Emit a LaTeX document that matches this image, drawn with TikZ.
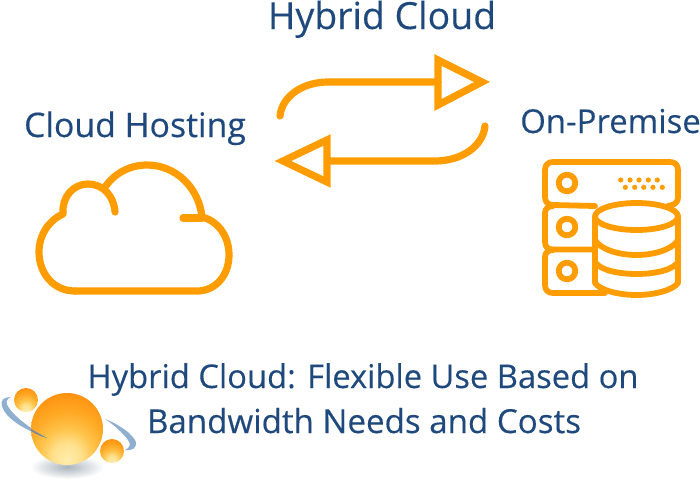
\documentclass[tikz,border=0pt]{standalone}
\usepackage{fontspec}
\setmainfont[FakeBold=0.25]{Open Sans}
\definecolor{tblue}{HTML}{1F497D}
\definecolor{iorange}{HTML}{FF9C00}
\definecolor{swooshc}{HTML}{8FAFD0}
\definecolor{shadowc}{HTML}{A9B4BC}
\pgfdeclareradialshading{ballshade}{\pgfpoint{0bp}{-22bp}}{
 rgb(0bp)=(1,0.93,0.68);
 rgb(10bp)=(1,0.88,0.55);
 rgb(18bp)=(1,0.77,0.30);
 rgb(28bp)=(1,0.66,0.14);
 rgb(40bp)=(1,0.56,0.05);
 rgb(52bp)=(1,0.50,0.00);
 rgb(100bp)=(1,0.50,0.00)}
\tikzset{
 x=1pt,y=-1pt,
 label text/.style={text=tblue,inner sep=0pt,font=\fontsize{32.7}{40}\selectfont,anchor=base},
 icon/.style={draw=iorange,line width=7.2pt,line cap=round,line join=round},
 iconthin/.style={draw=iorange,line width=5.8pt,line cap=round,line join=round},
 ball/.style={shading=ballshade,draw=none},
 swoosh/.style={fill=swooshc,draw=none},
}
\begin{document}
\begin{tikzpicture}
\useasboundingbox (0,0) rectangle (700,479);
% titles
\node[label text,font=\fontsize{37.4}{44}\selectfont] (hybrid) at (382,29) {Hybrid Cloud};
\node[label text,font=\fontsize{33.8}{40}\selectfont] (cloudh) at (135,137) {Cloud Hosting};
\node[label text,font=\fontsize{32.9}{40}\selectfont] (onprem) at (610.5,133) {On-Premise};
\node[label text] (cap1) at (363,388) {Hybrid Cloud: Flexible Use Based on};
\node[label text,font=\fontsize{33.1}{40}\selectfont] (cap2) at (364,433) {Bandwidth Needs and Costs};
% exchange arrows
\draw[icon] (280,116) .. controls (282,96) and (303,82) .. (328,82) -- (438,82);
\draw[icon,line cap=butt,miter limit=10,line join=miter] (438,60) -- (482,82) -- (438,105) -- cycle;
\draw[icon] (485,126) .. controls (483,146) and (462,161) .. (435,161) -- (328,161);
\draw[icon,line cap=butt,miter limit=10,line join=miter] (327,140) -- (283,161) -- (327,182) -- cycle;
% cloud
\draw[icon] (75,291) -- (197,291)
  .. controls (216,291) and (229,275) .. (229,255)
  .. controls (229,236) and (218,221) .. (202,217)
  .. controls (199,188) and (176,165) .. (147,165)
  .. controls (129,165) and (114,174) .. (105,187);
\draw[icon] (115,212) .. controls (114,196) and (103,184) .. (88,184)
  .. controls (73,184) and (62,197) .. (63,213);
\draw[icon] (63,214) .. controls (49,220) and (39,235) .. (39,252)
  .. controls (39,274) and (54,291) .. (75,291);
\draw[icon] (183,218) -- (202,218);
% server
\draw[iconthin] (595,206) -- (553,205) .. controls (548,205) and (545,202) .. (545,197)
  -- (545,170) .. controls (545,165) and (548,162) .. (553,162)
  -- (670,162) .. controls (675,162) and (678,165) .. (678,170)
  -- (678,197) .. controls (678,201) and (676,204) .. (672,205) -- (668,206);
\draw[iconthin] (553,206) .. controls (548,206) and (545,209) .. (545,213)
  -- (545,242) .. controls (545,247) and (548,249.5) .. (553,249.5) -- (595,249.5);
\draw[iconthin] (553,250) .. controls (548,250) and (545,253) .. (545,257)
  -- (545,285) .. controls (545,290) and (548,293) .. (553,293) -- (605,293);
\foreach \cy/\nm in {183/a,227/b,271/c}
  \draw[iconthin] (567,\cy) circle[radius=8.3];
\foreach \dx in {620.7,630,639,648.3,657.3}
  \fill[iorange] (\dx,180) circle[radius=2.6];
\foreach \dx in {625.3,634.7,643.7,653,662.3}
  \fill[iorange] (\dx,187.3) circle[radius=2.6];
% cylinder
\fill[white] (636.5,216.5) ellipse[x radius=41.5,y radius=13.5];
\draw[iconthin] (636.5,216.5) ellipse[x radius=41.5,y radius=13.5];
\draw[iconthin] (595,217) -- (595,283) .. controls (600,290) and (618,295) .. (636.5,295)
  .. controls (655,295) and (673,290) .. (678,283) -- (678,217);
\draw[iconthin] (595,240) .. controls (600,249) and (618,255) .. (636.5,255)
  .. controls (655,255) and (673,249) .. (678,240);
\draw[iconthin] (595,262) .. controls (600,270) and (618,274) .. (636.5,274)
  .. controls (655,274) and (673,270) .. (678,262);
% logo
\shade[inner color=shadowc,outer color=white] (67,467) ellipse[x radius=37,y radius=12];
\fill[swoosh] (47,438) .. controls (28,431) and (6,420) .. (2,406)
  .. controls (0,400) and (4,397) .. (11,397)
  .. controls (6,399) and (5,403) .. (9,408)
  .. controls (16,418) and (30,428) .. (47,438) -- cycle;
\fill[swoosh] (105,419) .. controls (118,424) and (132,433) .. (136,442)
  .. controls (137,448) and (132,451) .. (125,450)
  .. controls (130,448) and (131,444) .. (128,440)
  .. controls (122,432) and (114,425) .. (105,419) -- cycle;
\shade[ball] (67,429) circle[radius=36];
\fill[swooshc!80!black] (31,429) .. controls (36,432) and (42,435) .. (47,438)
  .. controls (42,437) and (36,434) .. (31,431) -- cycle;
\shade[ball] (26,400) circle[radius=12];
\shade[ball] (112,451) circle[radius=12];
\end{tikzpicture}
\end{document}
